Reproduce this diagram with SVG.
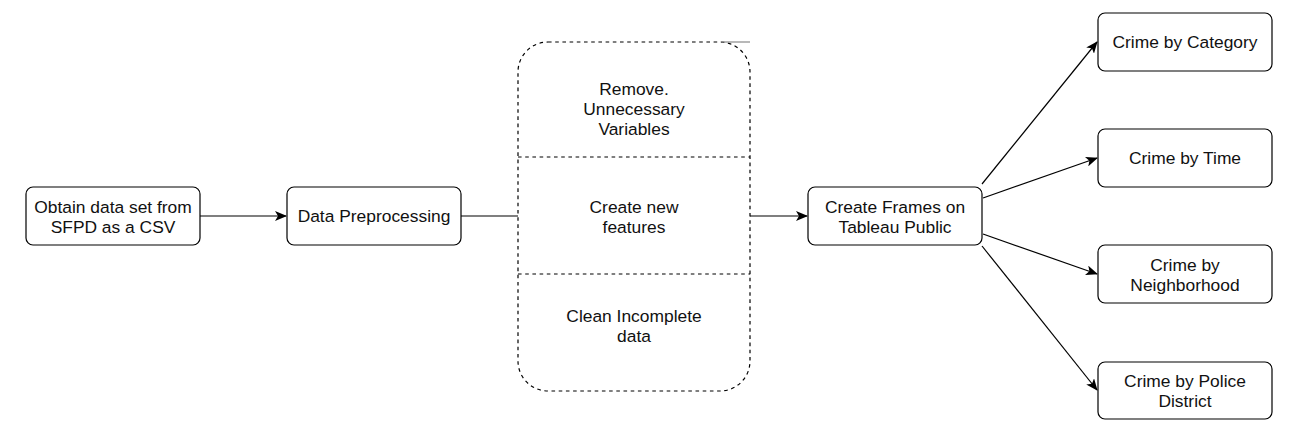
<svg xmlns="http://www.w3.org/2000/svg" width="1300" height="442" viewBox="0 0 1300 442">
<defs>
<style>
.box{fill:#fff;stroke:#000;stroke-width:1.2}
.dash{fill:none;stroke:#000;stroke-width:1.2;stroke-dasharray:3.6 3.6}
.t{font-family:"Liberation Sans",Arial,sans-serif;font-size:17.4px;fill:#111;text-anchor:middle}
.c{fill:none;stroke:#000;stroke-width:1.2}
</style>
<marker id="arr" viewBox="0 0 12 10" refX="11" refY="5" markerWidth="12" markerHeight="10" markerUnits="userSpaceOnUse" orient="auto">
<path d="M0,0 L12,5 L0,10 L3,5 Z" fill="#000"/>
</marker>
</defs>
<rect width="1300" height="442" fill="#fff"/>
<g id="connectors">
<line class="c" x1="200" y1="216" x2="286" y2="216" marker-end="url(#arr)"/>
<line class="c" x1="461" y1="216" x2="518" y2="216"/>
<line class="c" x1="750" y1="216" x2="807" y2="216" marker-end="url(#arr)"/>
<line class="c" x1="982" y1="184" x2="1097" y2="42" marker-end="url(#arr)"/>
<line class="c" x1="983" y1="198" x2="1097" y2="158" marker-end="url(#arr)"/>
<line class="c" x1="983" y1="234" x2="1097" y2="274" marker-end="url(#arr)"/>
<line class="c" x1="982" y1="246" x2="1097" y2="390" marker-end="url(#arr)"/>
</g>
<g id="obtain">
<rect class="box" x="26" y="187" width="174" height="58" rx="7"/>
<text class="t" x="113" y="213">Obtain data set from</text>
<text class="t" x="113" y="233">SFPD as a CSV</text>
</g>
<g id="preprocessing">
<rect class="box" x="287" y="187" width="174" height="58" rx="7"/>
<text class="t" x="374" y="222">Data Preprocessing</text>
</g>
<g id="steps">
<rect class="dash" x="518" y="42" width="232" height="349" rx="30"/>
<line x1="722" y1="42" x2="750" y2="42" stroke="#888" stroke-width="1.2"/>
<line class="dash" x1="518" y1="157" x2="750" y2="157"/>
<line class="dash" x1="518" y1="274" x2="750" y2="274"/>
<text class="t" x="634" y="95">Remove.</text>
<text class="t" x="634" y="115">Unnecessary</text>
<text class="t" x="634" y="135">Variables</text>
<text class="t" x="634" y="213">Create new</text>
<text class="t" x="634" y="233">features</text>
<text class="t" x="634" y="322">Clean Incomplete</text>
<text class="t" x="634" y="342">data</text>
</g>
<g id="frames">
<rect class="box" x="808" y="187" width="174" height="58" rx="7"/>
<text class="t" x="895" y="213">Create Frames on</text>
<text class="t" x="895" y="233">Tableau Public</text>
</g>
<g id="category">
<rect class="box" x="1098" y="13" width="174" height="58" rx="7"/>
<text class="t" x="1185" y="48">Crime by Category</text>
</g>
<g id="time">
<rect class="box" x="1098" y="129" width="174" height="58" rx="7"/>
<text class="t" x="1185" y="164">Crime by Time</text>
</g>
<g id="neighborhood">
<rect class="box" x="1098" y="245" width="174" height="58" rx="7"/>
<text class="t" x="1185" y="271">Crime by</text>
<text class="t" x="1185" y="291">Neighborhood</text>
</g>
<g id="police">
<rect class="box" x="1098" y="362" width="174" height="57" rx="7"/>
<text class="t" x="1185" y="387">Crime by Police</text>
<text class="t" x="1185" y="407">District</text>
</g>
</svg>
